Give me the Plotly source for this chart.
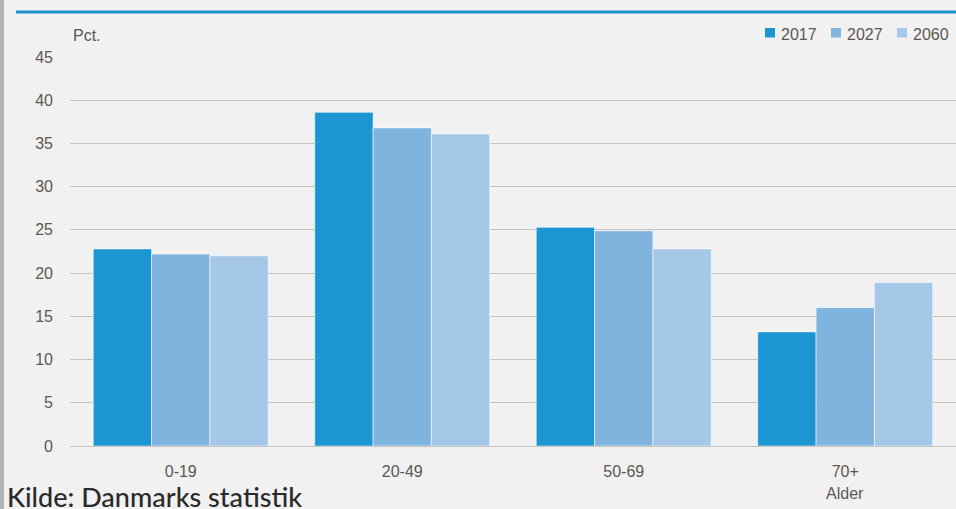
import plotly.graph_objects as go

categories = ["0-19", "20-49", "50-69", "70+"]
years = ["2017", "2027", "2060"]
values_2017 = [22.8, 38.6, 25.3, 13.2]
values_2027 = [22.2, 36.8, 24.9, 16.0]
values_2060 = [22.0, 36.1, 22.8, 18.9]
y_ticks = [0, 5, 10, 15, 20, 25, 30, 35, 40, 45]

colors = ["#1b96d2", "#7fb4de", "#a6c8e8"]
series = [values_2017, values_2027, values_2060]

fig = go.Figure()
for name, vals, col in zip(years, series, colors):
    fig.add_trace(go.Bar(
        x=categories, y=vals, name=name,
        marker=dict(color=col, line=dict(color="rgba(255,255,255,0.55)", width=1)),
    ))

W, H = 956, 509
L, R, T, B = 70, 0, 57, 63
ph = H - T - B
pw = W - L - R

def py(pix):
    return (H - B - pix) / ph

def px(pix):
    return (pix - L) / pw

font_main = "Liberation Sans, Arial, sans-serif"
grey = "#5b5753"

shapes = [
    dict(type="line", xref="paper", yref="paper", x0=px(16), x1=px(960),
         y0=py(12), y1=py(12), line=dict(color="#1e8fcf", width=3)),
    dict(type="rect", xref="paper", yref="paper", x0=px(0), x1=px(4),
         y0=py(0), y1=py(509), fillcolor="#b5b5b5", line=dict(width=0), layer="below"),
]
annotations = [
    dict(text="Pct.", xref="paper", yref="paper", x=px(71), y=py(35),
         xanchor="left", yanchor="middle", showarrow=False,
         font=dict(size=16, color=grey)),
    dict(text="Alder", xref="x", yref="paper", x=categories[-1], y=py(494),
         xanchor="center", yanchor="middle", showarrow=False,
         font=dict(size=16, color=grey)),
    dict(text="Kilde: Danmarks statistik", xref="paper", yref="paper",
         x=px(5), y=py(496), xanchor="left", yanchor="middle", showarrow=False,
         font=dict(family="Lato, sans-serif", size=27, weight=500, color="#2a2a2a")),
]

# custom legend
leg_text_x0 = 780
leg_pitch = 66
for i, (name, col) in enumerate(zip(years, colors)):
    tx = leg_text_x0 + i * leg_pitch
    shapes.append(dict(type="rect", xref="paper", yref="paper",
                       x0=px(tx - 15), x1=px(tx - 5), y0=py(37.5), y1=py(28),
                       fillcolor=col, line=dict(width=0)))
    annotations.append(dict(text=name, xref="paper", yref="paper", x=px(tx - 1),
                            y=py(34.5), xanchor="left", yanchor="middle",
                            showarrow=False, font=dict(size=16, color=grey)))

fig.update_layout(
    width=W, height=H,
    margin=dict(l=L, r=R, t=T, b=B, autoexpand=False),
    paper_bgcolor="#f1f1f1",
    plot_bgcolor="rgba(0,0,0,0)",
    barmode="group",
    bargap=0.21,
    bargroupgap=0.0,
    font=dict(family=font_main, size=16, color=grey),
    showlegend=False,
    xaxis=dict(
        showgrid=False, showline=False, ticks="", zeroline=False,
        tickfont=dict(size=16, color=grey), ticklabelstandoff=14,
    ),
    yaxis=dict(
        range=[0, 45], tickvals=y_ticks, showgrid=True, gridcolor="#c6c5bd",
        gridwidth=1, zeroline=True, zerolinecolor="#c6c5bd", zerolinewidth=1,
        showline=False, ticks="", tickfont=dict(size=16, color=grey),
        ticklabelstandoff=16,
    ),
    shapes=shapes,
    annotations=annotations,
)

fig.write_html("out.html", config={"displayModeBar": False},
               post_script="document.body.style.margin='0';document.body.style.overflow='hidden';")
